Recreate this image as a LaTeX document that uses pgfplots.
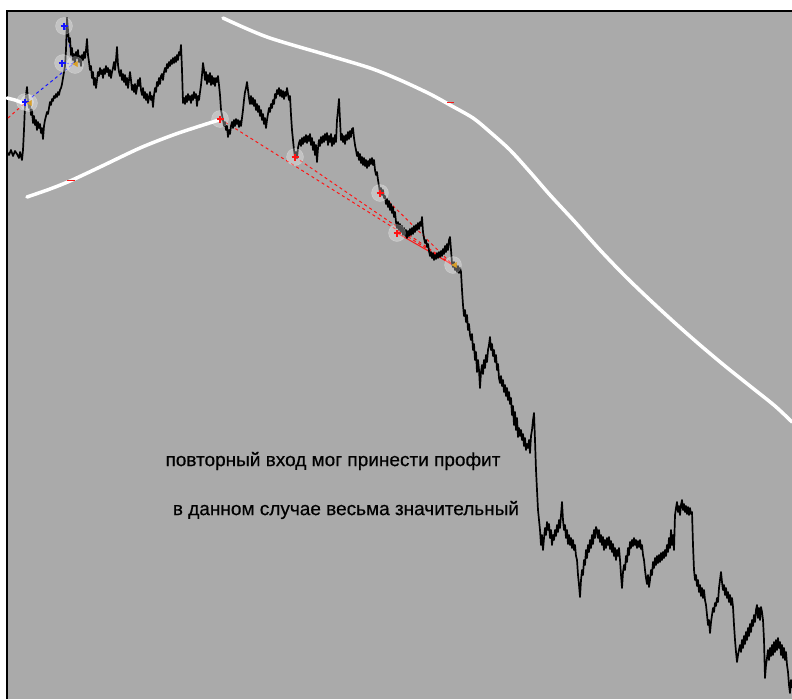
\documentclass[border=0pt]{standalone}
\usepackage{pgfplots}
\pgfplotsset{compat=1.18}
\usepackage{fontspec}
\setmainfont{Liberation Sans}
\newfontfamily\tfont[FakeBold=0.4]{Liberation Sans}
\definecolor{bg}{RGB}{170,170,170}
\definecolor{mk}{RGB}{218,160,40}
\definecolor{bl}{RGB}{20,20,255}
\definecolor{rd}{RGB}{255,20,20}
\begin{document}
\begin{tikzpicture}
\path[use as bounding box] (0,0) rectangle (792pt,699pt);
\begin{axis}[
  at={(6pt,0pt)}, anchor=south west,
  scale only axis, width=786pt, height=689pt,
  xmin=6, xmax=792, ymin=10, ymax=699, y dir=reverse,
  axis lines=none,
  axis background/.style={fill=bg},
  clip=true,
]
% frame
\addplot[black, line width=1.5pt] coordinates {(7,699)(7,11)(792,11)};
% white curves
\addplot[white, line width=3.5pt, line cap=round] coordinates {(7,98)(15,100)(23,103)};
\addplot[white, line width=3.5pt, line cap=round, smooth] coordinates {(27,197)(50,189)(70,181)(100,167)(140,148)(173,135)(200,126)(219,120)};
\addplot[white, line width=3.5pt, line cap=round, smooth] coordinates {(223,18)(267,37)(327,55)(370,68)(400,80)(430,94)(450,105)(473,118)(490,132)(510,150)(530,172)(550,195)(575,222)(600,250)(625,276)(650,300)(675,323)(700,345)(725,366)(750,386)(775,406)(792,422)};
\addplot[rd, line width=1pt] coordinates {(447,102)(454,102)};
\addplot[rd, line width=1pt] coordinates {(67,180)(75,180)};
% marker halos
\addplot[white, only marks, mark=*, mark size=8.5pt, mark options={draw=white, fill=white, opacity=0.3}] coordinates {(25,102)(29,103)(64,26)(63,63)(75,65)(220,119)(295,157)(380,193)(397,233)(453,265)};
% dashed trade lines
\addplot[rd, line width=1pt, dash pattern=on 3pt off 3pt] coordinates {(8,118)(25,103)};
\addplot[bl, line width=1pt, dash pattern=on 3pt off 3pt] coordinates {(27,101)(73,64)};
\addplot[bl, line width=1pt, dash pattern=on 3pt off 3pt] coordinates {(65,27)(74,63)};
\addplot[bl, line width=1pt, dash pattern=on 2pt off 2pt] coordinates {(63,63)(74,64)};
\addplot[rd, line width=1pt, dash pattern=on 3pt off 3pt] coordinates {(220,119)(453,265)};
\addplot[rd, line width=1pt, dash pattern=on 3pt off 3pt] coordinates {(295,157)(453,265)};
\addplot[rd, line width=1pt, dash pattern=on 3pt off 3pt] coordinates {(380,193)(453,265)};
\addplot[rd, line width=1pt] coordinates {(397,233)(453,265)};
% price
\addplot[black, line width=1.7pt, line join=round] coordinates {
(7,152)(9,155)(11,150)(13,156)(15,151)(17,154)(19,158)(20,152)(22,160)(23,150)(24,130)(25,105)(26,95)(27,87)(28,100)(29,108)(30,104)(31,115)(32,110)(33,123)(34,116)(35,125)(36,120)(37,130)(38,122)(39,128)(40,124)(41,133)(42,128)(43,139)(44,126)(45,120)(46,116)(47,112)(48,114)(49,108)(50,102)(51,105)(52,99)(53,101)(54,96)(55,98)(56,94)(57,97)(58,92)(59,95)(60,90)(61,88)(62,84)(63,78)(64,72)(65,66)(66,50)(67,18)(68,30)(69,42)(70,38)(71,55)(72,48)(73,60)(74,54)(75,63)(76,52)(77,58)(78,50)(79,62)(80,56)(81,66)(82,55)(83,60)(84,52)(85,58)(86,50)(87,39)(88,55)(89,62)(90,70)(91,66)(92,78)(93,72)(94,85)(95,78)(96,88)(97,80)(98,72)(99,76)(100,68)(101,74)(102,70)(103,78)(104,69)(105,74)(106,66)(107,72)(108,68)(109,76)(110,70)(111,78)(112,72)(113,68)(114,62)(115,70)(116,60)(117,47)(118,65)(119,72)(120,76)(121,70)(122,80)(123,74)(124,82)(125,75)(126,85)(127,78)(128,88)(129,80)(130,72)(131,80)(132,90)(133,85)(134,92)(135,84)(136,94)(137,88)(138,80)(139,86)(140,78)(141,90)(142,95)(143,88)(144,98)(145,92)(146,100)(147,94)(148,103)(149,98)(150,92)(151,100)(152,96)(153,107)(154,95)(155,88)(156,92)(157,82)(158,86)(159,78)(160,84)(161,76)(162,74)(163,80)(164,72)(165,68)(166,72)(167,64)(168,68)(169,62)(170,66)(171,60)(172,64)(173,58)(174,63)(175,57)(176,62)(177,55)(178,60)(179,52)(180,55)(181,45)(182,70)(183,103)(184,98)(185,104)(186,96)(187,102)(188,94)(189,100)(190,96)(191,103)(192,95)(193,100)(194,92)(195,98)(196,94)(197,106)(198,96)(199,100)(200,92)(201,85)(202,75)(203,63)(204,70)(205,80)(206,72)(207,84)(208,75)(209,82)(210,73)(211,85)(212,76)(213,84)(214,78)(215,86)(216,78)(217,82)(218,76)(219,85)(220,95)(221,110)(222,115)(223,120)(224,126)(225,122)(226,130)(227,126)(228,137)(229,130)(230,134)(231,126)(232,122)(233,128)(234,120)(235,126)(236,119)(237,124)(238,120)(239,127)(240,121)(241,126)(242,118)(243,110)(244,100)(245,92)(246,88)(247,82)(248,90)(249,98)(250,104)(251,96)(252,104)(253,98)(254,106)(255,100)(256,110)(257,104)(258,112)(259,106)(260,116)(261,110)(262,120)(263,114)(264,124)(265,118)(266,128)(267,120)(268,114)(269,108)(270,112)(271,104)(272,108)(273,100)(274,104)(275,94)(276,98)(277,90)(278,94)(279,88)(280,96)(281,90)(282,97)(283,91)(284,99)(285,92)(286,96)(287,88)(288,94)(289,100)(290,96)(291,115)(292,130)(293,140)(294,150)(295,157)(296,152)(297,158)(298,148)(299,143)(300,140)(301,146)(302,138)(303,144)(304,137)(305,142)(306,135)(307,143)(308,136)(309,141)(310,134)(311,145)(312,138)(313,150)(314,142)(315,155)(316,145)(317,162)(318,148)(319,140)(320,146)(321,137)(322,143)(323,136)(324,142)(325,134)(326,140)(327,133)(328,145)(329,136)(330,142)(331,134)(332,146)(333,138)(334,144)(335,135)(336,142)(337,120)(338,110)(339,99)(340,120)(341,140)(342,134)(343,142)(344,136)(345,144)(346,135)(347,140)(348,132)(349,139)(350,131)(351,137)(352,129)(353,128)(354,138)(355,145)(356,150)(357,156)(358,152)(359,160)(360,154)(361,163)(362,157)(363,165)(364,158)(365,166)(366,160)(367,168)(368,161)(369,166)(370,159)(371,164)(372,158)(373,165)(374,160)(375,170)(376,175)(377,172)(378,180)(379,186)(380,193)(381,188)(382,195)(383,190)(384,198)(385,196)(386,204)(387,199)(388,207)(389,201)(390,210)(391,204)(392,213)(393,207)(394,217)(395,212)(396,222)(397,228)(398,222)(399,230)(400,224)(401,232)(402,226)(403,235)(404,228)(405,236)(406,230)(407,238)(408,231)(409,236)(410,229)(411,235)(412,228)(413,234)(414,226)(415,232)(416,225)(417,230)(418,223)(419,229)(420,222)(421,226)(422,217)(423,232)(424,238)(425,243)(426,240)(427,247)(428,244)(429,251)(430,256)(431,252)(432,258)(433,253)(434,260)(435,255)(436,259)(437,253)(438,258)(439,252)(440,257)(441,251)(442,256)(443,249)(444,254)(445,246)(446,252)(447,244)(448,250)(449,240)(450,237)(451,250)(452,263)(453,267)(454,262)(455,270)(456,265)(457,272)(458,266)(459,273)(460,268)(461,272)(462,290)(463,305)(464,316)(465,310)(466,322)(467,315)(468,330)(469,324)(470,335)(471,340)(472,334)(473,350)(474,344)(475,360)(476,352)(477,372)(478,360)(479,370)(480,388)(481,372)(482,365)(483,374)(484,360)(485,368)(486,355)(487,362)(488,350)(489,345)(490,337)(491,350)(492,344)(493,356)(494,350)(495,362)(496,355)(497,370)(498,364)(499,378)(500,383)(501,376)(502,386)(503,380)(504,392)(505,385)(506,396)(507,388)(508,400)(509,392)(510,404)(511,398)(512,415)(513,406)(514,425)(515,412)(516,430)(517,418)(518,437)(519,428)(520,436)(521,430)(522,440)(523,434)(524,446)(525,438)(526,450)(527,444)(528,448)(529,440)(530,453)(531,436)(532,430)(533,420)(534,413)(535,440)(536,470)(537,490)(538,510)(539,520)(540,530)(541,545)(542,535)(543,550)(544,538)(545,528)(546,535)(547,522)(548,530)(549,524)(550,538)(551,530)(552,545)(553,535)(554,540)(555,530)(556,536)(557,525)(558,532)(559,520)(560,528)(561,515)(562,502)(563,520)(564,530)(565,525)(566,538)(567,530)(568,544)(569,535)(570,545)(571,538)(572,548)(573,540)(574,550)(575,545)(576,556)(577,560)(578,575)(579,585)(580,597)(581,580)(582,570)(583,575)(584,560)(585,565)(586,550)(587,558)(588,545)(589,552)(590,540)(591,548)(592,535)(593,544)(594,530)(595,538)(596,527)(597,530)(598,538)(599,530)(600,542)(601,535)(602,545)(603,537)(604,550)(605,540)(606,548)(607,538)(608,545)(609,537)(610,549)(611,541)(612,552)(613,544)(614,556)(615,548)(616,560)(617,550)(618,556)(619,548)(620,560)(621,575)(622,588)(623,572)(624,565)(625,570)(626,556)(627,562)(628,548)(629,555)(630,542)(631,548)(632,540)(633,546)(634,538)(635,545)(636,540)(637,548)(638,541)(639,547)(640,540)(641,549)(642,545)(643,555)(644,560)(645,570)(646,578)(647,584)(648,575)(649,587)(650,580)(651,570)(652,575)(653,562)(654,568)(655,558)(656,565)(657,556)(658,563)(659,555)(660,562)(661,553)(662,560)(663,552)(664,558)(665,550)(666,556)(667,545)(668,552)(669,538)(670,548)(671,530)(672,545)(673,535)(674,550)(675,515)(676,508)(677,502)(678,512)(679,506)(680,515)(681,505)(682,500)(683,510)(684,504)(685,512)(686,506)(687,514)(688,507)(689,515)(690,508)(691,514)(692,512)(693,545)(694,570)(695,580)(696,575)(697,586)(698,580)(699,592)(700,585)(701,596)(702,588)(703,598)(704,590)(705,600)(706,605)(707,615)(708,625)(709,620)(710,633)(711,622)(712,615)(713,608)(714,612)(715,603)(716,606)(717,598)(718,602)(719,588)(720,580)(721,572)(722,582)(723,590)(724,585)(725,595)(726,588)(727,598)(728,592)(729,602)(730,595)(731,605)(732,598)(733,607)(734,625)(735,640)(736,652)(737,662)(738,655)(739,650)(740,645)(741,652)(742,640)(743,648)(744,636)(745,644)(746,632)(747,640)(748,628)(749,636)(750,624)(751,632)(752,620)(753,626)(754,615)(755,622)(756,610)(757,605)(758,618)(759,608)(760,620)(761,607)(762,612)(763,620)(764,640)(765,678)(766,665)(767,658)(768,650)(769,660)(770,648)(771,656)(772,645)(773,655)(774,642)(775,652)(776,640)(777,650)(778,638)(779,648)(780,642)(781,655)(782,645)(783,658)(784,648)(785,660)(786,652)(787,665)(788,672)(789,685)(790,693)(791,680)(792,688)
};
% entry markers
\addplot[only marks, mark=+, mark size=3.5pt, mark options={bl, line width=2.2pt}] coordinates {(25,102)(64,26)(62,63)};
\addplot[only marks, mark=+, mark size=3.5pt, mark options={rd, line width=2.2pt}] coordinates {(220,119)(295,157)(380,193)(397,233)};
\addplot[only marks, mark=triangle*, mark size=3pt, mark options={mk, rotate=90}] coordinates {(30,103)(76,64)(455,265)};
% text
\node[font=\tfont\fontsize{19}{22}\selectfont, text=black, inner sep=0pt] at (axis cs:333,461) {повторный вход мог принести профит};
\node[font=\tfont\fontsize{19}{22}\selectfont, text=black, inner sep=0pt] at (axis cs:346,510) {в данном случае весьма значительный};
\end{axis}
\end{tikzpicture}
\end{document}
